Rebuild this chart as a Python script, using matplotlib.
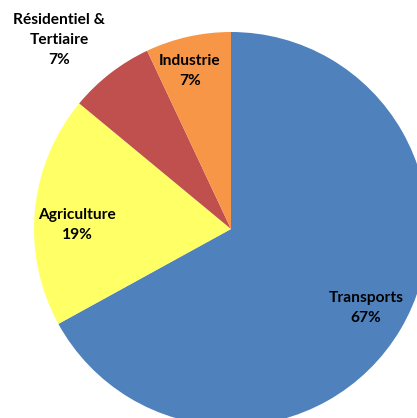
import matplotlib
matplotlib.use("Agg")
import matplotlib.pyplot as plt

# Energy consumption share by sector
sectors = ["Transports", "Agriculture", "Résidentiel &\nTertiaire", "Industrie"]
shares = [67, 19, 7, 7]
colours = ["#4F81BD", "#FFFF66", "#C0504D", "#F79646"]

# label centres, in pixel coordinates from the top-left corner
label_pos = [(366, 308), (77, 225), (59, 40), (190, 71)]

W, H = 417, 418
fig = plt.figure(figsize=(W / 100, H / 100), dpi=100)
ax = fig.add_axes([0, 0, 1, 1])

ax.pie(
    shares,
    colors=colours,
    startangle=90,
    counterclock=False,
    center=(231, H - 229),
    radius=197,
    frame=True,
    wedgeprops={"linewidth": 0},
)
ax.set_xlim(0, W)
ax.set_ylim(0, H)
ax.set_aspect("equal")
ax.axis("off")

for name, pct, (x, y) in zip(sectors, shares, label_pos):
    ax.text(
        x, H - y, f"{name}\n{pct}%",
        ha="center", va="center",
        fontfamily="Lato", fontweight="bold", fontsize=11.2,
        linespacing=1.5, color="black",
    )

plt.savefig("out.png", dpi=100)
plt.close()
